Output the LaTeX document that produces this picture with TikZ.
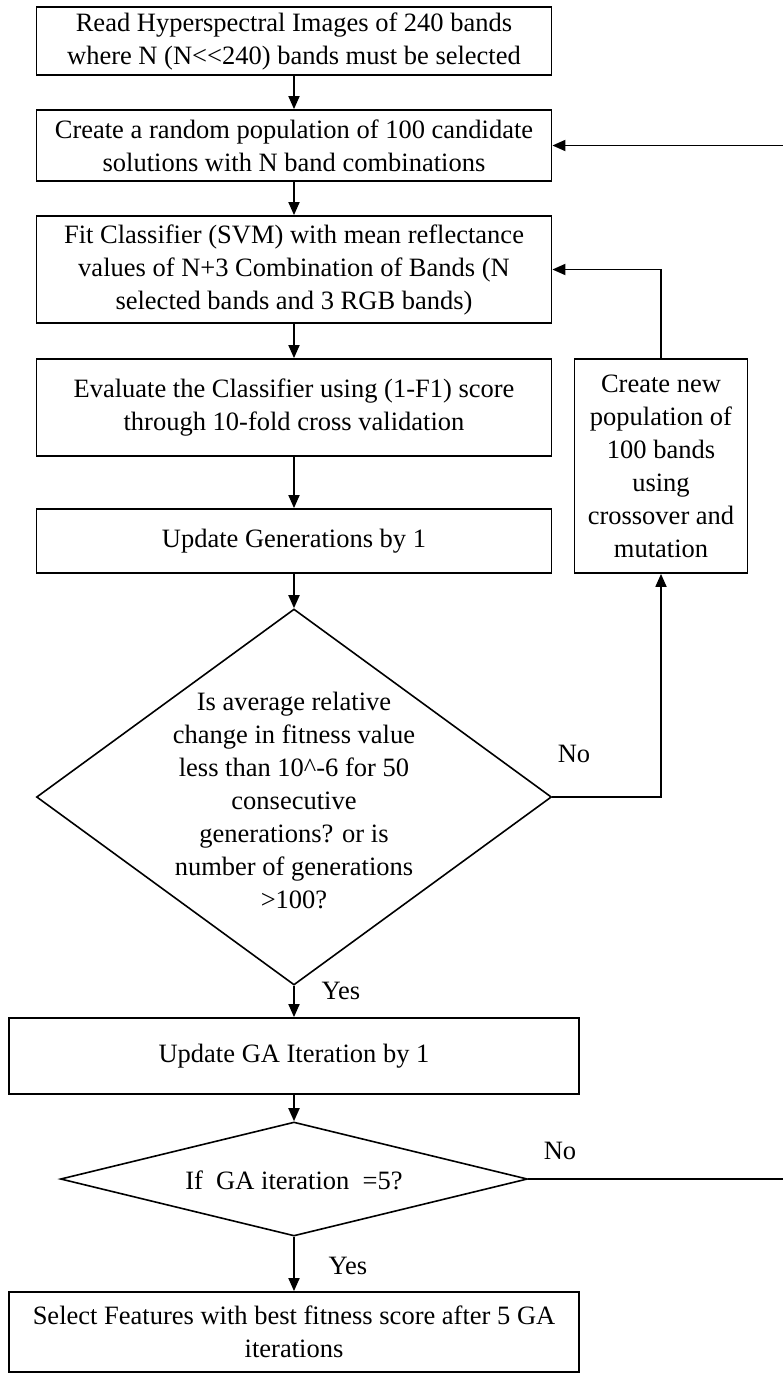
\documentclass[tikz,border=0pt]{standalone}
\usepackage{fontspec}
\setmainfont{Liberation Serif}
\usetikzlibrary{shapes.geometric,arrows.meta}
\begin{document}
\begin{tikzpicture}[x=1pt,y=-1pt,
  every node/.style={font=\fontsize{26.5}{33}\selectfont, align=center},
  box/.style={draw, line width=1.8pt, rectangle, inner sep=0pt},
  dia/.style={draw, line width=1.6pt, diamond, inner sep=0pt},
  lbl/.style={inner sep=0pt},
  conn/.style={line width=1.8pt, -{Triangle[length=13pt,width=11pt]}}]
\useasboundingbox (0,0) rectangle (783,1373);
\clip (0,0) rectangle (783,1373);
% main column
\node[box, minimum width=515pt, minimum height=68pt] (b1) at (294,41)
  {Read Hyperspectral Images of 240 bands\\where N (N<\kern0pt<240) bands must be selected};
\node[box, minimum width=515pt, minimum height=71pt] (b2) at (294,145.5)
  {Create a random population of 100 candidate\\solutions with N band combinations};
\node[box, minimum width=515pt, minimum height=107pt] (b3) at (294,269.5)
  {Fit Classifier (SVM) with mean reflectance\\values of N+3 Combination of Bands (N\\selected bands and 3 RGB bands)};
\node[box, minimum width=515pt, minimum height=97pt] (b4) at (294,407.5)
  {Evaluate the Classifier using (1-F1) score\\through 10-fold cross validation};
\node[box, minimum width=515pt, minimum height=64pt] (b5) at (294,541)
  {Update Generations by 1};
\node[box, minimum width=173pt, minimum height=214pt] (side) at (661,466)
  {Create new\\population of\\100 bands\\using\\crossover and\\mutation};
\node[dia, minimum width=515pt, minimum height=376pt] (d1) at (294,797) {};
\node[lbl] (d1t) at (294,800)
  {Is average relative\\change in fitness value\\less than 10\textasciicircum-6 for 50\\consecutive\\generations? or is\\number of generations\\>100?};
\node[box, minimum width=570pt, minimum height=76pt] (b6) at (294,1056)
  {Update GA Iteration by 1};
\node[dia, minimum width=467pt, minimum height=114pt] (d2) at (294,1179) {};
\node[lbl] (d2t) at (294,1180) {If\ \ GA iteration\ \ =5?};
\node[box, minimum width=570pt, minimum height=80pt] (b7) at (294,1332)
  {Select Features with best fitness score after 5 GA\\iterations};
% labels
\node[lbl] (no1) at (574,754) {No};
\node[lbl] (yes1) at (341,991) {Yes};
\node[lbl] (no2) at (560,1151) {No};
\node[lbl] (yes2) at (348,1266) {Yes};
% connectors
\draw[conn] (b1) -- (b2);
\draw[conn] (b2) -- (b3);
\draw[conn] (b3) -- (b4);
\draw[conn] (b4) -- (b5);
\draw[conn] (b5) -- (d1);
\draw[conn] (d1) -- (b6);
\draw[conn] (b6) -- (d2);
\draw[conn] (d2) -- (b7);
\draw[conn] (d1.east) -| (side.south);
\draw[conn] (side.north) |- (b3.east);
\coordinate (r) at (800,1179);
\draw[conn] (d2.east) -- (r) |- (b2.east);
\end{tikzpicture}
\end{document}
